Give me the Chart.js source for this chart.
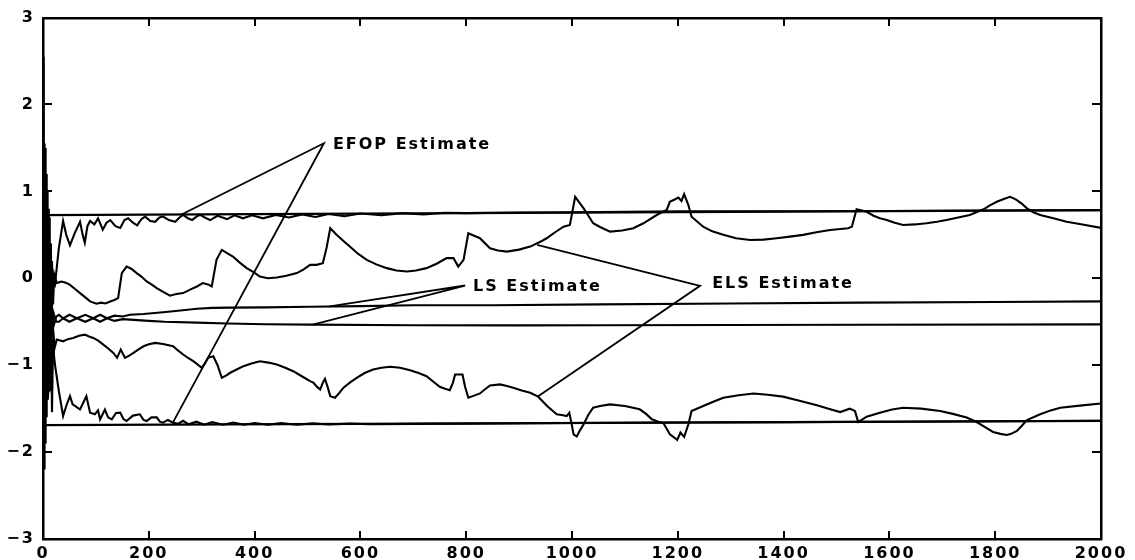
<!DOCTYPE html>
<html>
<head>
<meta charset="utf-8">
<script src="https://cdn.jsdelivr.net/npm/chart.js@4"></script>
<style>
  html, body { margin: 0; padding: 0; background: #fff; }
  canvas { display: block; }
</style>
</head>
<body>
<canvas id="chart" width="1135" height="560" style="width:1135px;height:560px"></canvas>
<script>
// tick values
const xTicks = [0, 200, 400, 600, 800, 1000, 1200, 1400, 1600, 1800, 2000];
const yTicks = [-3, -2, -1, 0, 1, 2, 3];

// true parameter lines
const refUpX = [0, 2000];
const refUpY = [0.728, 0.785];
const refLoX = [0, 2000];
const refLoY = [-1.69, -1.64];

// EFOP estimate, upper parameter
const efopUpX = [0, 1, 1.5, 2, 2.5, 3, 3.5, 4, 4.5, 5, 5.5, 6, 6.5, 7, 7.5, 8, 8.5, 9, 10, 11, 11.5, 12.5, 13, 14, 15, 16, 17, 19, 21, 23, 30, 38, 44, 51, 60, 70, 75, 79, 84, 89, 97, 104, 113, 120, 127, 137, 146, 154, 161, 170, 178, 186, 193, 203, 212, 220, 227, 238, 250, 258, 265, 274, 282, 290, 297, 306, 316, 330, 348, 362, 378, 395, 416, 440, 465, 490, 515, 540, 570, 600, 640, 680, 720, 760, 800, 900, 1000, 1200, 1400, 1600, 1800, 2000];
const efopUpY = [0.3, 1.2, 2.55, -0.6, 1.4, -1.2, 1.55, -1.4, 1.5, -1.5, 1.3, -1.3, 1.2, -1.0, 1.1, -0.9, 1.0, -0.8, 0.8, -0.7, 0.7, -0.6, 0.5, -0.5, 0.4, -0.5, 0.2, -0.3, 0.0, -0.05, 0.35, 0.66, 0.5, 0.38, 0.52, 0.65, 0.5, 0.41, 0.6, 0.66, 0.62, 0.69, 0.56, 0.64, 0.67, 0.6, 0.58, 0.67, 0.69, 0.64, 0.61, 0.68, 0.71, 0.66, 0.65, 0.7, 0.71, 0.67, 0.65, 0.7, 0.73, 0.69, 0.67, 0.71, 0.73, 0.7, 0.67, 0.72, 0.68, 0.725, 0.69, 0.725, 0.69, 0.73, 0.7, 0.735, 0.705, 0.74, 0.715, 0.745, 0.725, 0.75, 0.735, 0.755, 0.75, 0.757, 0.76, 0.77, 0.772, 0.775, 0.78, 0.785];

// EFOP estimate, lower parameter
const efopLoX = [0, 1, 1.5, 2, 2.5, 3, 3.5, 4, 4.5, 5, 5.5, 6, 6.5, 7, 7.5, 8.5, 9, 10, 11, 11.5, 12.5, 13, 15, 17, 19, 21, 23, 30, 38, 45, 51, 56, 61, 70, 77, 82, 89, 98, 104, 108, 117, 123, 130, 138, 146, 152, 158, 170, 183, 190, 196, 205, 215, 221, 227, 236, 246, 255, 265, 275, 290, 305, 320, 340, 360, 380, 400, 425, 450, 480, 510, 540, 580, 620, 700, 800, 1000, 1200, 1400, 1600, 1800, 2000];
const efopLoY = [-0.3, -1.5, 0.6, 1.2, -1.4, -2.2, 0.9, 0.8, -1.9, -1.8, 0.6, 0.5, -1.6, -1.5, 0.4, 0.2, -1.4, -1.3, 0.0, -0.3, -1.3, -1.2, -0.5, -1.54, -0.7, -0.9, -1.01, -1.3, -1.585, -1.45, -1.356, -1.45, -1.47, -1.51, -1.42, -1.356, -1.546, -1.565, -1.52, -1.623, -1.51, -1.6, -1.623, -1.55, -1.546, -1.62, -1.642, -1.58, -1.565, -1.63, -1.642, -1.6, -1.6, -1.65, -1.661, -1.63, -1.661, -1.675, -1.64, -1.68, -1.65, -1.685, -1.655, -1.685, -1.66, -1.685, -1.665, -1.685, -1.667, -1.685, -1.67, -1.683, -1.672, -1.68, -1.675, -1.672, -1.665, -1.66, -1.655, -1.65, -1.645, -1.64];

// ELS estimate, upper parameter
const elsUpX = [0, 3, 5, 8, 11, 14, 17, 21, 26, 35, 43, 51, 60, 70, 80, 89, 101, 110, 118, 127, 135, 142, 149, 158, 167, 177, 186, 196, 205, 215, 228, 240, 252, 265, 278, 291, 302, 312, 319, 328, 338, 348, 359, 372, 385, 398, 410, 425, 442, 460, 480, 492, 505, 517, 529, 536, 543, 555, 568, 580, 596, 612, 630, 650, 668, 688, 705, 725, 745, 763, 776, 785, 795, 804, 815, 826, 845, 860, 877, 900, 921, 940, 952, 968, 984, 996, 1006, 1014, 1022, 1031, 1040, 1053, 1072, 1095, 1116, 1135, 1160, 1179, 1185, 1195, 1201, 1207, 1212, 1220, 1226, 1248, 1265, 1286, 1310, 1337, 1362, 1387, 1412, 1437, 1462, 1488, 1522, 1529, 1538, 1548, 1557, 1570, 1582, 1595, 1610, 1626, 1648, 1670, 1690, 1708, 1730, 1752, 1778, 1790, 1803, 1815, 1828, 1835, 1841, 1850, 1860, 1872, 1885, 1910, 1935, 1965, 2000];
const elsUpY = [0.0, 0.8, -0.6, 0.5, -0.4, 0.25, -0.3, 0.05, -0.055, -0.037, -0.05, -0.075, -0.12, -0.17, -0.22, -0.266, -0.292, -0.28, -0.29, -0.266, -0.25, -0.227, 0.06, 0.135, 0.11, 0.06, 0.02, -0.037, -0.07, -0.112, -0.16, -0.2, -0.18, -0.17, -0.13, -0.094, -0.055, -0.07, -0.094, 0.212, 0.327, 0.29, 0.25, 0.18, 0.117, 0.07, 0.02, 0.0, 0.01, 0.03, 0.06, 0.1, 0.155, 0.155, 0.174, 0.35, 0.576, 0.5, 0.43, 0.365, 0.28, 0.212, 0.16, 0.117, 0.09, 0.078, 0.09, 0.117, 0.17, 0.232, 0.232, 0.135, 0.212, 0.518, 0.49, 0.461, 0.346, 0.32, 0.307, 0.33, 0.365, 0.42, 0.461, 0.53, 0.594, 0.614, 0.938, 0.87, 0.805, 0.72, 0.633, 0.59, 0.537, 0.55, 0.576, 0.633, 0.728, 0.786, 0.88, 0.91, 0.93, 0.89, 0.969, 0.843, 0.709, 0.594, 0.54, 0.5, 0.46, 0.44, 0.445, 0.461, 0.48, 0.5, 0.53, 0.556, 0.576, 0.594, 0.794, 0.78, 0.766, 0.72, 0.69, 0.671, 0.64, 0.614, 0.62, 0.633, 0.65, 0.671, 0.7, 0.728, 0.794, 0.84, 0.88, 0.91, 0.938, 0.92, 0.9, 0.86, 0.805, 0.76, 0.728, 0.69, 0.651, 0.62, 0.58];

// ELS estimate, lower parameter
const elsLoX = [0, 3, 5, 8, 11, 14, 18, 22, 26, 38, 47, 57, 68, 79, 87, 95, 105, 114, 124, 133, 140, 147, 155, 163, 171, 180, 190, 200, 212, 227, 246, 255, 265, 275, 284, 292, 300, 307, 312, 322, 330, 338, 346, 354, 366, 379, 394, 410, 426, 442, 458, 473, 490, 505, 511, 518, 524, 529, 533, 538, 543, 552, 560, 568, 580, 593, 608, 624, 640, 656, 675, 694, 710, 725, 738, 750, 760, 769, 775, 779, 793, 798, 804, 815, 826, 835, 845, 864, 877, 889, 905, 921, 936, 953, 971, 983, 990, 995, 1000, 1003, 1009, 1015, 1022, 1031, 1040, 1053, 1072, 1100, 1128, 1140, 1151, 1163, 1173, 1185, 1199, 1205, 1212, 1220, 1226, 1248, 1267, 1286, 1315, 1343, 1370, 1399, 1430, 1463, 1485, 1507, 1525, 1535, 1541, 1557, 1582, 1605, 1626, 1660, 1696, 1720, 1746, 1765, 1780, 1796, 1810, 1822, 1830, 1841, 1850, 1860, 1885, 1905, 1923, 1960, 2000];
const elsLoY = [-0.5, -1.4, 0.0, -1.1, -0.3, -0.9, -0.5, -0.8, -0.705, -0.725, -0.7, -0.686, -0.66, -0.648, -0.67, -0.686, -0.72, -0.763, -0.81, -0.858, -0.915, -0.82, -0.915, -0.89, -0.858, -0.82, -0.782, -0.76, -0.743, -0.755, -0.782, -0.83, -0.877, -0.92, -0.954, -0.99, -1.03, -0.97, -0.915, -0.897, -1.0, -1.145, -1.12, -1.087, -1.05, -1.011, -0.98, -0.954, -0.97, -0.992, -1.03, -1.069, -1.13, -1.183, -1.2, -1.25, -1.279, -1.2, -1.156, -1.25, -1.356, -1.374, -1.32, -1.259, -1.2, -1.145, -1.09, -1.049, -1.03, -1.018, -1.03, -1.057, -1.09, -1.126, -1.19, -1.248, -1.27, -1.287, -1.2, -1.107, -1.107, -1.25, -1.374, -1.35, -1.325, -1.28, -1.233, -1.221, -1.24, -1.259, -1.29, -1.317, -1.362, -1.47, -1.565, -1.575, -1.585, -1.546, -1.7, -1.795, -1.821, -1.75, -1.68, -1.57, -1.489, -1.47, -1.451, -1.47, -1.508, -1.56, -1.623, -1.65, -1.669, -1.795, -1.86, -1.775, -1.826, -1.68, -1.528, -1.47, -1.42, -1.374, -1.345, -1.325, -1.34, -1.362, -1.41, -1.462, -1.5, -1.539, -1.5, -1.528, -1.654, -1.592, -1.546, -1.51, -1.489, -1.5, -1.528, -1.56, -1.603, -1.654, -1.71, -1.768, -1.79, -1.803, -1.79, -1.757, -1.7, -1.631, -1.565, -1.52, -1.489, -1.465, -1.44];

// LS estimates (two parameters, braided at the start)
const lsAX = [0, 4, 8, 12, 16, 20, 25, 30, 38, 50, 64, 80, 95, 108, 121, 135, 151, 164, 190, 227, 260, 291, 320, 353, 420, 505, 600, 700, 850, 1053, 1300, 1544, 1800, 2000];
const lsAY = [-0.3, -0.8, -0.1, -0.7, -0.3, -0.55, -0.44, -0.42, -0.46, -0.5, -0.46, -0.42, -0.46, -0.5, -0.46, -0.43, -0.44, -0.42, -0.41, -0.39, -0.37, -0.35, -0.34, -0.338, -0.335, -0.327, -0.32, -0.31, -0.31, -0.3, -0.29, -0.28, -0.272, -0.265];
const lsBX = [0, 4, 8, 12, 16, 20, 25, 30, 38, 50, 64, 80, 95, 108, 121, 135, 151, 164, 200, 230, 291, 350, 420, 505, 700, 900, 1053, 1300, 1544, 2000];
const lsBY = [-0.6, 0.2, -0.9, -0.2, -0.6, -0.4, -0.5, -0.5, -0.46, -0.42, -0.46, -0.5, -0.46, -0.42, -0.46, -0.49, -0.47, -0.476, -0.49, -0.5, -0.51, -0.52, -0.528, -0.533, -0.54, -0.542, -0.54, -0.537, -0.535, -0.53];

// callout leaders: end on curve, apex near label, end on curve
const efopCallX = [260, 531, 246];
const efopCallY = [0.728, 1.554, -1.655];
const lsCallX = [542, 798, 510];
const lsCallY = [-0.323, -0.083, -0.533];
const elsCallX = [934, 1242, 936];
const elsCallY = [0.384, -0.086, -1.356];

// label texts and where they start
const labelText = ["EFOP Estimate", "LS Estimate", "ELS Estimate"];
const labelX = [548, 813, 1265];
const labelY = [1.54, -0.094, -0.063];

const FONT = "bold 16px 'DejaVu Sans'";
const SPACING = "2px";

function pts(xs, ys) {
  return xs.map((x, i) => ({ x: x, y: ys[i] }));
}

function line(xs, ys, w) {
  return {
    data: pts(xs, ys),
    borderColor: "#000",
    borderWidth: w,
    pointRadius: 0,
    fill: false,
    tension: 0
  };
}

// frame, inward ticks and the labels
const framePlugin = {
  id: "frame",
  beforeDraw(chart) {
    chart.ctx.letterSpacing = SPACING;
  },
  afterDraw(chart) {
    const ctx = chart.ctx;
    const a = chart.chartArea;
    const xs = chart.scales.x;
    const ys = chart.scales.y;
    const L = Math.round(a.left), R = Math.round(a.right);
    const T = Math.round(a.top), B = Math.round(a.bottom);
    ctx.save();
    ctx.globalAlpha = 1;
    ctx.globalCompositeOperation = "source-over";
    ctx.fillStyle = "#000";
    // frame
    ctx.fillRect(L - 1, T - 1, R - L + 2, 2.5);
    ctx.fillRect(L - 1, B - 1, R - L + 2, 2.5);
    ctx.fillRect(L - 1, T - 1, 2.5, B - T + 2);
    ctx.fillRect(R - 1, T - 1, 2.5, B - T + 2);
    // inward ticks
    xTicks.forEach(v => {
      const px = Math.round(xs.getPixelForValue(v));
      ctx.fillRect(px - 1, B - 8, 2, 8);
      ctx.fillRect(px - 1, T, 2, 8);
    });
    yTicks.forEach(v => {
      const py = Math.round(ys.getPixelForValue(v));
      ctx.fillRect(L, py - 1, 9, 2);
      ctx.fillRect(R - 9, py - 1, 9, 2);
    });
    // labels
    ctx.font = FONT;
    ctx.letterSpacing = SPACING;
    ctx.textAlign = "left";
    ctx.textBaseline = "middle";
    labelText.forEach((t, i) => {
      ctx.fillText(t, xs.getPixelForValue(labelX[i]), ys.getPixelForValue(labelY[i]));
    });
    ctx.restore();
  }
};

new Chart(document.getElementById("chart").getContext("2d"), {
  type: "line",
  data: {
    datasets: [
      line(refUpX, refUpY, 2.2),
      line(refLoX, refLoY, 2.2),
      line(efopUpX, efopUpY, 2.1),
      line(efopLoX, efopLoY, 2.1),
      line(elsUpX, elsUpY, 2.1),
      line(elsLoX, elsLoY, 2.1),
      line(lsAX, lsAY, 2.1),
      line(lsBX, lsBY, 2.1),
      line(efopCallX, efopCallY, 1.8),
      line(lsCallX, lsCallY, 1.8),
      line(elsCallX, elsCallY, 1.8)
    ]
  },
  options: {
    responsive: false,
    animation: false,
    events: [],
    layout: { padding: { left: 0, right: 34, top: 15, bottom: 0 } },
    plugins: { legend: { display: false }, tooltip: { enabled: false } },
    scales: {
      x: {
        type: "linear",
        min: 0,
        max: 2000,
        afterBuildTicks: s => { s.ticks = xTicks.map(v => ({ value: v })); },
        afterFit: s => { s.height = 21; },
        grid: { display: false, drawTicks: false },
        border: { display: false },
        ticks: {
          color: "#000",
          font: { family: "DejaVu Sans", size: 16, weight: "bold" },
          padding: 5,
          maxRotation: 0,
          autoSkip: false,
          callback: v => String(v)
        }
      },
      y: {
        type: "linear",
        min: -3,
        max: 3,
        afterBuildTicks: s => { s.ticks = yTicks.map(v => ({ value: v })); },
        afterFit: s => { s.width = 43; },
        grid: { display: false, drawTicks: false },
        border: { display: false },
        ticks: {
          color: "#000",
          font: { family: "DejaVu Sans", size: 16, weight: "bold" },
          padding: 8,
          callback: v => (v < 0 ? "\u2212" + Math.abs(v) : String(v))
        }
      }
    }
  },
  plugins: [framePlugin]
});
</script>
</body>
</html>
